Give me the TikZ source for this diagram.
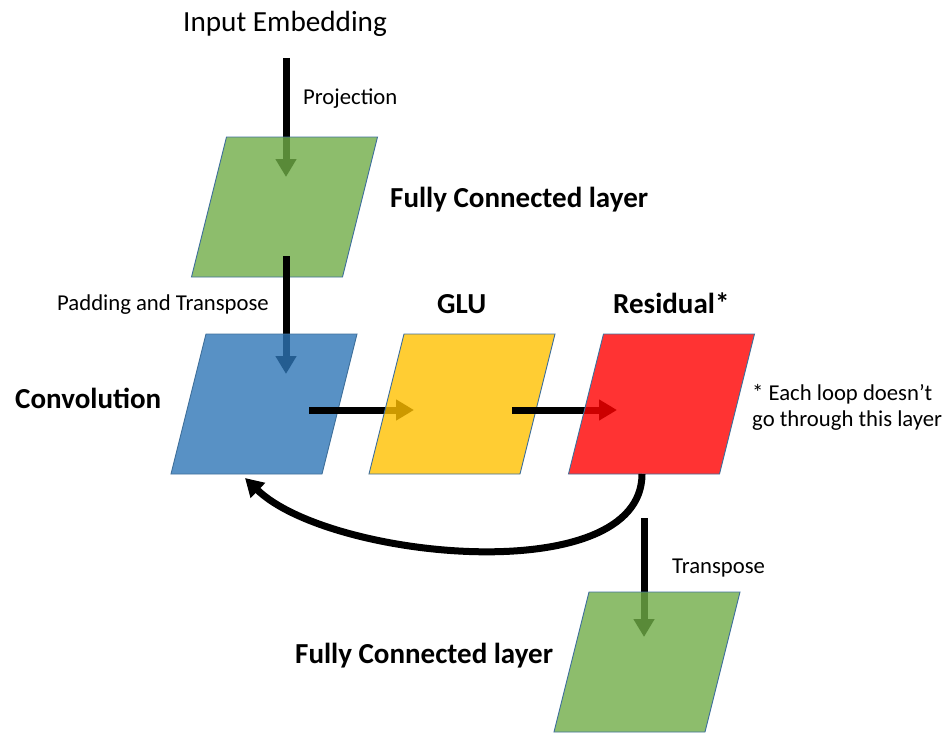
\documentclass[tikz,border=0pt]{standalone}
\usepackage{fontspec}
\setmainfont{Carlito}
\usetikzlibrary{arrows.meta,calc}

\definecolor{fcgreen}{HTML}{70AD47}
\definecolor{convblue}{HTML}{2E75B6}
\definecolor{glugold}{HTML}{FFC000}
\definecolor{resred}{HTML}{FF0000}
\definecolor{edgeblue}{HTML}{41719C}

\tikzset{
  layerslot/.style={shape=rectangle, minimum width=151pt, minimum height=140pt,
    inner sep=0pt, outer sep=0pt},
  layeredge/.style={draw=edgeblue, line width=0.9pt, fill opacity=0.8, line join=miter},
  bigtext/.style={font=\fontsize{29.2}{35}\selectfont, inner sep=0pt, anchor=base west},
  boldtext/.style={font=\fontsize{29}{35}\selectfont\bfseries, inner sep=0pt, anchor=base west},
  smalltext/.style={font=\fontsize{22.7}{25.5}\selectfont, inner sep=0pt, anchor=base west},
  flow/.style={line width=7pt, -{Triangle[width=20pt,length=18pt]}}
}

% slanted block drawn around a named slot node: #1 = node name, #2 = colour
\newcommand{\slantblock}[2]{%
  \path[layeredge, fill=#2]
    ($(#1.south west)+(-17.5,0)$) -- ($(#1.south east)+(-17.5,0)$) --
    ($(#1.north east)+(17.5,0)$) -- ($(#1.north west)+(17.5,0)$) -- cycle;}

\begin{document}
\begin{tikzpicture}[x=1pt, y=-1pt]
\useasboundingbox (0,0) rectangle (947,733);

% slots of the layer blocks
\node[layerslot] (fc1)  at (284.5,207) {};
\node[layerslot] (conv) at (264,404)   {};
\node[layerslot] (glu)  at (462,404)   {};
\node[layerslot] (res)  at (661.5,404) {};
\node[layerslot] (fc2)  at (647,662)   {};

% each arrow lies over the block it leaves and under the block it enters
\draw[flow] ($(fc1.north)+(1.5,-79)$) -- ($(fc1.north)+(1.5,40)$);
\slantblock{fc1}{fcgreen}
\draw[flow] ($(fc1.south)+(1.5,-21)$) -- ($(fc1.south |- conv.north)+(1.5,40)$);
\slantblock{conv}{convblue}
\draw[flow] ($(conv.center)+(45,6)$) -- ($(glu.center)+(-48,6)$);
\slantblock{glu}{glugold}
\draw[flow] ($(glu.center)+(50,6)$) -- ($(res.center)+(-44.5,6)$);
\slantblock{res}{resred}
\draw[flow] ($(res.south)+(-19.5,0)$) .. controls +(0,116) and +(85,82) .. ($(conv.south)+(-19,4)$);
\draw[flow] ($(res.south)+(-17.5,44)$) -- ($(fc2.north)+(-3,45)$);
\slantblock{fc2}{fcgreen}

% labels
\node[bigtext]   (inp)   at (183,32)  {Input Embedding};
\node[smalltext] (proj)  at (303,105) {Projection};
\node[boldtext]  (fc1l)  at (390,207) {Fully Connected layer};
\node[smalltext] (pad)   at (57,310)  {Padding and Transpose};
\node[boldtext]  (convl) at (15,408)  {Convolution};
\node[boldtext]  (glul)  at (437,313) {GLU};
\node[boldtext]  (resl)  at (613,313) {Residual*};
\node[smalltext, align=left, anchor=base west] (note) at (752,426)
  {* Each loop doesn’t\\go through this layer};
\node[smalltext] (trans) at (672,573) {Transpose};
\node[boldtext]  (fc2l)  at (295,663) {Fully Connected layer};
\end{tikzpicture}
\end{document}
